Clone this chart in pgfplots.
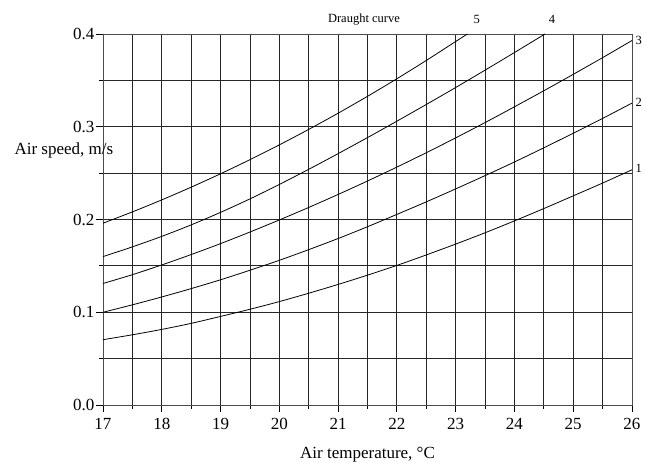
\documentclass[border=0pt]{standalone}
\usepackage{fontspec}
\setmainfont{Liberation Serif}
\usepackage{pgfplots}
\pgfplotsset{compat=1.18}
\begin{document}
\begin{tikzpicture}
\path[use as bounding box] (-103pt,-57pt) rectangle (543pt,405pt);
\begin{axis}[
  at={(0pt,0pt)}, anchor=south west,
  scale only axis, width=529pt, height=371pt,
  xmin=17, xmax=26, ymin=0, ymax=0.4,
  xtick={17,...,26}, ytick={0,0.1,0.2,0.3,0.4},
  minor x tick num=1, minor y tick num=1,
  grid=both,
  major grid style={line width=0.8pt, black!85},
  minor grid style={line width=0.8pt, black!85},
  axis line style={line width=0.8pt, black!70},
  tick align=outside, xtick pos=left, ytick pos=left,
  major tick length=7pt, minor tick length=4pt,
  tick style={line width=0.8pt, black},
  /pgf/number format/assume math mode=true,
  yticklabel style={/pgf/number format/fixed, /pgf/number format/fixed zerofill, /pgf/number format/precision=1, xshift=2pt},
  ticklabel style={font=\fontsize{17}{17}\selectfont},
  xticklabel style={yshift=-3pt},
  xlabel={Air temperature, \textdegree C},
  every axis x label/.style={at={(axis description cs:0.5,0)}, anchor=center, yshift=-50pt, font=\fontsize{17}{17}\selectfont},
  ylabel={Air speed, m/s},
  every axis y label/.style={at={(axis description cs:0,0.685)}, anchor=west, xshift=-92pt, font=\fontsize{17}{17}\selectfont},
  clip=false,
]
\addplot[black, line width=0.8pt, smooth] coordinates {(17,0.0704) (17.5,0.0757) (18,0.0815) (18.5,0.088) (19,0.0955) (19.5,0.1032) (20,0.1115) (20.5,0.1205) (21,0.130) (21.5,0.140) (22,0.1505) (22.5,0.1618) (23,0.1735) (23.5,0.1857) (24,0.1985) (24.5,0.2118) (25,0.2255) (25.5,0.2393) (26,0.2536)};
\addplot[black, line width=0.8pt, smooth] coordinates {(17,0.100) (17.5,0.108) (18,0.1165) (18.5,0.1255) (19,0.135) (19.5,0.1453) (20,0.156) (20.5,0.1675) (21,0.1795) (21.5,0.1922) (22,0.2055) (22.5,0.219) (23,0.233) (23.5,0.2473) (24,0.262) (24.5,0.2773) (25,0.293) (25.5,0.309) (26,0.3255)};
\addplot[black, line width=0.8pt, smooth] coordinates {(17,0.131) (17.5,0.1405) (18,0.151) (18.5,0.1622) (19,0.174) (19.5,0.1865) (20,0.1995) (20.5,0.213) (21,0.227) (21.5,0.2415) (22,0.2565) (22.5,0.272) (23,0.288) (23.5,0.3045) (24,0.3215) (24.5,0.3388) (25,0.3565) (25.5,0.3745) (26,0.393)};
\addplot[black, line width=0.8pt, smooth] coordinates {(17,0.160) (17.5,0.1705) (18,0.1818) (18.5,0.1942) (19,0.2077) (19.5,0.2222) (20,0.2378) (20.5,0.2541) (21,0.2710) (21.5,0.2883) (22,0.3060) (22.5,0.3240) (23,0.3423) (23.5,0.3610) (24,0.3800) (24.52,0.4)};
\addplot[black, line width=0.8pt, smooth] coordinates {(17,0.196) (17.5,0.2082) (18,0.22115) (18.5,0.23485) (19,0.2493) (19.5,0.2645) (20,0.28045) (20.5,0.29715) (21,0.3146) (21.5,0.3328) (22,0.35175) (22.5,0.37145) (23,0.3919) (23.2,0.4)};
\node[font=\fontsize{12.5}{12.5}\selectfont] at (axis cs:21.44,0.4155) {Draught curve};
\node[font=\fontsize{12.5}{12.5}\selectfont] at (axis cs:23.36,0.4155) {5};
\node[font=\fontsize{12.5}{12.5}\selectfont] at (axis cs:24.64,0.4155) {4};
\node[font=\fontsize{12.5}{12.5}\selectfont, anchor=west, inner sep=0pt] at (axis cs:26.06,0.3935) {3};
\node[font=\fontsize{12.5}{12.5}\selectfont, anchor=west, inner sep=0pt] at (axis cs:26.06,0.326) {2};
\node[font=\fontsize{12.5}{12.5}\selectfont, anchor=west, inner sep=0pt] at (axis cs:26.06,0.2555) {1};
\end{axis}
\end{tikzpicture}
\end{document}
